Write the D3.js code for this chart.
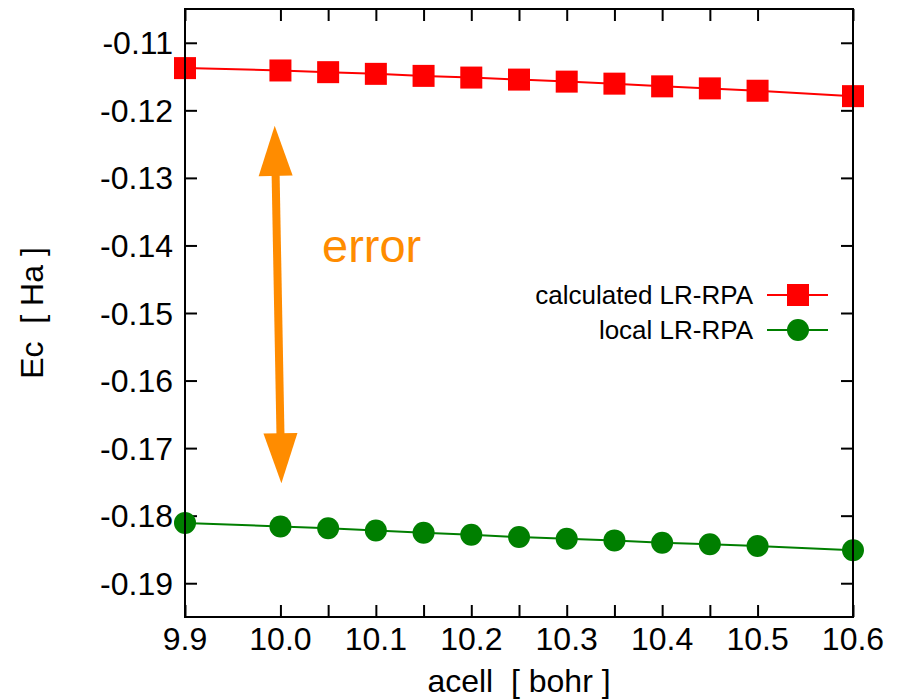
<!DOCTYPE html>
<html>
<head>
<meta charset="utf-8">
<script src="https://cdn.jsdelivr.net/npm/d3@7"></script>
<style>
  body { margin: 0; background: #fff; }
  svg { display: block; font-family: "Liberation Sans", Arial, sans-serif; }
  text { white-space: pre; }
</style>
</head>
<body>
<svg id="chart" width="897" height="700"></svg>
<script>
// values
const acell = [9.9, 10.0, 10.05, 10.1, 10.15, 10.2, 10.25, 10.3, 10.35, 10.4, 10.45, 10.5, 10.6];
const calculated = [-0.11375, -0.1141, -0.11435, -0.1146, -0.1149, -0.11515, -0.11545,
                    -0.11575, -0.11605, -0.11645, -0.11675, -0.1171, -0.1179];
const local = [-0.18107, -0.18161, -0.18185, -0.1822, -0.18254, -0.18283, -0.18317,
               -0.18341, -0.18366, -0.184, -0.18424, -0.18449, -0.18512];
const xTicks = [9.9, 10.0, 10.05, 10.1, 10.15, 10.2, 10.25, 10.3, 10.35, 10.4, 10.45, 10.5, 10.6];
const xLabelTicks = [9.9, 10.0, 10.1, 10.2, 10.3, 10.4, 10.5, 10.6];
const yTicks = [-0.11, -0.12, -0.13, -0.14, -0.15, -0.16, -0.17, -0.18, -0.19];
const arrowFrom = [9.994, -0.1223];
const arrowTo = [10.001, -0.1752];
const errorLabelAt = [10.0436, -0.1425];

const svg = d3.select('#chart');
const m = {left: 185, right: 853, top: 9, bottom: 617};

const x = d3.scaleLinear().domain([9.9, 10.6]).range([m.left, m.right]);
const y = d3.scaleLinear().domain([-0.195, -0.105]).range([m.bottom, m.top]);

// ticks (inward, on all four sides)
const tickLen = 12;
const axes = svg.append('g');
axes.append('g').attr('transform', `translate(0,${m.bottom})`)
  .call(d3.axisBottom(x).tickValues(xTicks).tickSize(-tickLen).tickFormat(''));
axes.append('g').attr('transform', `translate(0,${m.top})`)
  .call(d3.axisTop(x).tickValues(xTicks).tickSize(-tickLen).tickFormat(''));
axes.append('g').attr('transform', `translate(${m.left},0)`)
  .call(d3.axisLeft(y).tickValues(yTicks).tickSize(-tickLen).tickFormat(''));
axes.append('g').attr('transform', `translate(${m.right},0)`)
  .call(d3.axisRight(y).tickValues(yTicks).tickSize(-tickLen).tickFormat(''));
axes.selectAll('.domain').remove();
axes.selectAll('.tick line').attr('stroke', '#000').attr('stroke-width', 2);

// tick labels
svg.append('g').selectAll('text').data(xLabelTicks).join('text')
  .attr('x', d => x(d)).attr('y', 650)
  .attr('text-anchor', 'middle').attr('font-size', 32)
  .text(d => d3.format('.1f')(d));
svg.append('g').selectAll('text').data(yTicks).join('text')
  .attr('x', m.left - 12).attr('y', d => y(d) + 11.5)
  .attr('text-anchor', 'end').attr('font-size', 32)
  .text(d => d3.format('.2f')(d).replace('−', '-'));

// axis titles
svg.append('text').attr('x', (m.left + m.right) / 2).attr('y', 692)
  .attr('text-anchor', 'middle').attr('font-size', 32).text('acell  [ bohr ]');
svg.append('text').attr('transform', `translate(43,${(m.top + m.bottom) / 2}) rotate(-90)`)
  .attr('text-anchor', 'middle').attr('font-size', 32).text('Ec  [ Ha ]');

// series
const line = d3.line().x(d => x(d[0])).y(d => y(d[1]));
const redPts = acell.map((a, i) => [a, calculated[i]]);
const greenPts = acell.map((a, i) => [a, local[i]]);

svg.append('path').datum(redPts).attr('d', line)
  .attr('fill', 'none').attr('stroke', '#ff0000').attr('stroke-width', 2);
svg.append('path').datum(greenPts).attr('d', line)
  .attr('fill', 'none').attr('stroke', '#007f00').attr('stroke-width', 2);

const sq = 22, rad = 11;
svg.append('g').selectAll('rect').data(redPts).join('rect')
  .attr('x', d => x(d[0]) - sq / 2).attr('y', d => y(d[1]) - sq / 2)
  .attr('width', sq).attr('height', sq).attr('fill', '#ff0000');
svg.append('g').selectAll('circle').data(greenPts).join('circle')
  .attr('cx', d => x(d[0])).attr('cy', d => y(d[1])).attr('r', rad)
  .attr('fill', '#007f00');

// frame
svg.append('rect').attr('x', m.left).attr('y', m.top)
  .attr('width', m.right - m.left).attr('height', m.bottom - m.top)
  .attr('fill', 'none').attr('stroke', '#000').attr('stroke-width', 2);

// error arrow
const orange = '#ff8c00';
function arrowHead(tip, from) {
  const dx = tip[0] - from[0], dy = tip[1] - from[1];
  const len = Math.hypot(dx, dy), ux = dx / len, uy = dy / len;
  const hl = 50, hw = 17;
  const bx = tip[0] - ux * hl, by = tip[1] - uy * hl;
  return [[tip[0], tip[1]], [bx - uy * hw, by + ux * hw], [bx + uy * hw, by - ux * hw]];
}
const p1 = [x(arrowFrom[0]), y(arrowFrom[1])];
const p2 = [x(arrowTo[0]), y(arrowTo[1])];
const shaftLen = Math.hypot(p2[0] - p1[0], p2[1] - p1[1]);
const ux = (p2[0] - p1[0]) / shaftLen, uy = (p2[1] - p1[1]) / shaftLen;
svg.append('line')
  .attr('x1', p1[0] + ux * 45).attr('y1', p1[1] + uy * 45)
  .attr('x2', p2[0] - ux * 45).attr('y2', p2[1] - uy * 45)
  .attr('stroke', orange).attr('stroke-width', 8);
svg.append('polygon').attr('points', arrowHead(p1, p2).join(' ')).attr('fill', orange);
svg.append('polygon').attr('points', arrowHead(p2, p1).join(' ')).attr('fill', orange);
svg.append('text').attr('x', x(errorLabelAt[0])).attr('y', y(errorLabelAt[1]))
  .attr('font-size', 47).attr('fill', orange).text('error');

// legend
const legend = [
  {label: 'calculated LR-RPA', color: '#ff0000', shape: 'square', yPos: 295},
  {label: 'local LR-RPA', color: '#007f00', shape: 'circle', yPos: 330}
];
const lg = svg.append('g').selectAll('g').data(legend).join('g')
  .attr('transform', d => `translate(0,${d.yPos})`);
lg.append('text').attr('x', 753).attr('y', 9).attr('text-anchor', 'end')
  .attr('font-size', 26).text(d => d.label);
lg.append('line').attr('x1', 767).attr('x2', 828).attr('y1', 0).attr('y2', 0)
  .attr('stroke', d => d.color).attr('stroke-width', 2);
lg.filter(d => d.shape === 'square').append('rect')
  .attr('x', 798 - sq / 2).attr('y', -sq / 2).attr('width', sq).attr('height', sq)
  .attr('fill', d => d.color);
lg.filter(d => d.shape === 'circle').append('circle')
  .attr('cx', 798).attr('cy', 0).attr('r', rad).attr('fill', d => d.color);
</script>
</body>
</html>
